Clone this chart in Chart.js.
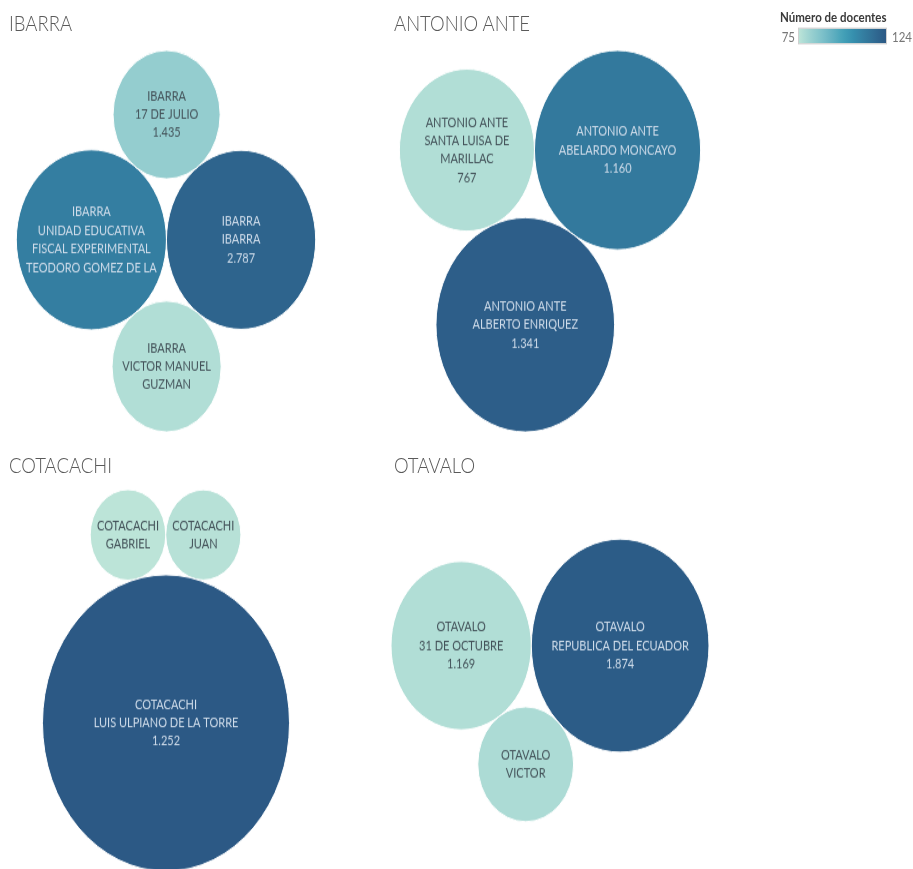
<!DOCTYPE html>
<html lang="es">
<head>
<meta charset="utf-8">
<title>Estudiantes por institución</title>
<script src="https://cdn.jsdelivr.net/npm/chart.js@4.4.1/dist/chart.umd.min.js"></script>
<style>
    html, body { margin: 0; padding: 0; background: #fff; overflow: hidden; }
    /* todo el tablero se estira en vertical como la captura original */
    #stage {
        position: absolute; left: 0; top: 0; width: 913px; height: 724px;
        transform: scaleY(1.2); transform-origin: 0 0;
        font-family: Lato, 'Open Sans', sans-serif;
    }
    .panel { position: absolute; }
    .titulo { position: absolute; font-size: 18.5px; line-height: 1; color: #5a5a5a; font-weight: 300; white-space: nowrap; }
    #leyenda { position: absolute; left: 760px; top: 0; width: 153px; height: 45px; }
    #leyenda .nombre { position: absolute; left: 20px; top: 8px; font-size: 11.5px; line-height: 1; font-weight: 700; color: #3a3a3a; white-space: nowrap; }
    #leyenda .barra { position: absolute; left: 38px; top: 23px; width: 89px; height: 14px; border: 1px solid #d0d0d0; box-sizing: border-box; }
    #leyenda .min, #leyenda .max { position: absolute; top: 25px; font-size: 11.5px; line-height: 1; color: #777; }
    #leyenda .min { right: 118px; }
    #leyenda .max { left: 132px; }
</style>
</head>
<body>
<div id="stage">
    <div id="leyenda">
        <div class="nombre">Número de docentes</div>
        <div class="min">75</div>
        <div class="barra"></div>
        <div class="max">124</div>
    </div>
</div>
<script>
// datos por institución (tamaño = estudiantes, color = docentes)
const cantones = ['IBARRA', 'ANTONIO ANTE', 'COTACACHI', 'OTAVALO'];
const canton = ['IBARRA', 'IBARRA', 'IBARRA', 'IBARRA',
    'ANTONIO ANTE', 'ANTONIO ANTE', 'ANTONIO ANTE',
    'COTACACHI', 'COTACACHI', 'COTACACHI',
    'OTAVALO', 'OTAVALO', 'OTAVALO'];
const escuela = ['UNIDAD EDUCATIVA FISCAL EXPERIMENTAL TEODORO GOMEZ DE LA TORRE', 'IBARRA', '17 DE JULIO', 'VICTOR MANUEL GUZMAN',
    'SANTA LUISA DE MARILLAC', 'ABELARDO MONCAYO', 'ALBERTO ENRIQUEZ',
    'GABRIEL', 'JUAN', 'LUIS ULPIANO DE LA TORRE',
    '31 DE OCTUBRE', 'REPUBLICA DEL ECUADOR', 'VICTOR'];
const estudiantes = [2820, 2787, 1435, 1490, 767, 1160, 1341, 117, 116, 1252, 1169, 1874, 545];
const docentes = [111, 120, 83, 77, 77, 113, 122, 75, 76, 124, 77, 123, 78];
const docentesMin = 75;
const docentesMax = 124;

// paleta Blue-Teal de Tableau
const paleta = ['#bce4d8', '#aedcd5', '#a1d5d2', '#95cecf', '#89c8cc', '#7ec1ca', '#72bac6', '#66b2c2', '#59acbe', '#4ba5ba',
    '#419eb6', '#3b96b2', '#358ead', '#3586a7', '#347ea1', '#32779b', '#316f96', '#2f6790', '#2d608a', '#2c5985'];

// escuelas que van encima del par inicial; el resto va debajo
const arriba = ['17 DE JULIO'];

// posición de cada hoja del tablero
const paneles = [
    { left: 7, top: 42, tituloX: 9, tituloY: 10 },
    { left: 391, top: 42, tituloX: 394, tituloY: 10 },
    { left: 7, top: 408, tituloX: 9, tituloY: 378 },
    { left: 391, top: 408, tituloX: 394, tituloY: 378 }
];
const LADO = 318;

function hexRgb(h) {
    return [parseInt(h.slice(1, 3), 16), parseInt(h.slice(3, 5), 16), parseInt(h.slice(5, 7), 16)];
}
function colorDocentes(d) {
    const t = Math.min(Math.max((d - docentesMin) / (docentesMax - docentesMin), 0), 1) * (paleta.length - 1);
    const i = Math.min(Math.floor(t), paleta.length - 2);
    const f = t - i;
    const a = hexRgb(paleta[i]), b = hexRgb(paleta[i + 1]);
    const c = a.map((v, k) => Math.round(v + (b[k] - v) * f));
    return `rgb(${c[0]},${c[1]},${c[2]})`;
}
function formato(n) {
    return String(n).replace(/\B(?=(\d{3})+(?!\d))/g, '.');
}

// empaquetado simple: los dos primeros tangentes en horizontal, el resto tangente a ambos
function empacar(idx) {
    const r = idx.map(i => Math.sqrt(estudiantes[i]));
    const pos = [{ x: 0, y: 0 }, { x: r[0] + r[1], y: 0 }];
    const d = r[0] + r[1];
    for (let k = 2; k < idx.length; k++) {
        const dA = r[0] + r[k], dB = r[1] + r[k];
        const x = (dA * dA - dB * dB + d * d) / (2 * d);
        const y = Math.sqrt(Math.max(dA * dA - x * x, 0));
        pos.push({ x: x, y: arriba.includes(escuela[idx[k]]) ? y : -y });
    }
    const x0 = Math.min(...pos.map((p, k) => p.x - r[k])), x1 = Math.max(...pos.map((p, k) => p.x + r[k]));
    const y0 = Math.min(...pos.map((p, k) => p.y - r[k])), y1 = Math.max(...pos.map((p, k) => p.y + r[k]));
    const f = 2 / Math.max(x1 - x0, y1 - y0);
    const cx = (x0 + x1) / 2, cy = (y0 + y1) / 2;
    return idx.map((i, k) => ({
        x: (pos[k].x - cx) * f,
        y: (pos[k].y - cy) * f,
        ru: r[k] * f,
        canton: canton[i],
        escuela: escuela[i],
        valor: estudiantes[i],
        docentes: docentes[i]
    }));
}

function partir(ctx, texto, ancho) {
    const palabras = texto.split(' ');
    const lineas = [];
    let actual = '';
    palabras.forEach(p => {
        const prueba = actual ? actual + ' ' + p : p;
        if (actual && ctx.measureText(prueba).width > ancho) {
            lineas.push(actual);
            actual = p;
        } else {
            actual = prueba;
        }
    });
    if (actual) lineas.push(actual);
    return lineas;
}

// etiquetas dentro de cada burbuja
const etiquetas = {
    id: 'etiquetas',
    afterDatasetsDraw(chart) {
        const ctx = chart.ctx;
        const meta = chart.getDatasetMeta(0);
        const datos = chart.data.datasets[0].data;
        const alto = 15.4;
        ctx.save();
        ctx.font = '11px Lato, "Open Sans", sans-serif';
        ctx.textAlign = 'center';
        ctx.textBaseline = 'middle';
        meta.data.forEach((el, i) => {
            const raw = datos[i];
            const r = el.options.radius;
            let lineas = [raw.canton].concat(partir(ctx, raw.escuela, 1.8 * r), [formato(raw.valor)]);
            lineas = lineas.slice(0, Math.floor(2 * r / 33));
            ctx.fillStyle = raw.docentes > 100 ? '#cfdcea' : '#44535a';
            lineas.forEach((t, j) => {
                ctx.fillText(t, el.x, el.y + (j - (lineas.length - 1) / 2) * alto);
            });
        });
        ctx.restore();
    }
};

const stage = document.getElementById('stage');
document.querySelector('#leyenda .barra').style.background =
    'linear-gradient(to right, ' + paleta.join(', ') + ')';

cantones.forEach((nombre, p) => {
    const conf = paneles[p];
    const titulo = document.createElement('div');
    titulo.className = 'titulo';
    titulo.textContent = nombre;
    titulo.style.left = conf.tituloX + 'px';
    titulo.style.top = conf.tituloY + 'px';
    stage.appendChild(titulo);

    const canvas = document.createElement('canvas');
    canvas.className = 'panel';
    canvas.width = LADO;
    canvas.height = LADO;
    canvas.style.left = conf.left + 'px';
    canvas.style.top = conf.top + 'px';
    stage.appendChild(canvas);

    const idx = canton.map((c, i) => c === nombre ? i : -1).filter(i => i >= 0);
    const puntos = empacar(idx);

    new Chart(canvas.getContext('2d'), {
        type: 'bubble',
        data: {
            datasets: [{
                data: puntos,
                backgroundColor: puntos.map(d => colorDocentes(d.docentes)),
                borderColor: '#ffffff',
                borderWidth: 1,
                // radio en píxeles: el área de la hoja va de -1 a 1 en ambos ejes
                radius: c => (c.raw ? c.raw.ru * c.chart.width / 2 : 0),
                clip: false
            }]
        },
        options: {
            responsive: false,
            devicePixelRatio: 1,
            animation: false,
            events: [],
            layout: { autoPadding: false, padding: 0 },
            scales: {
                x: { type: 'linear', min: -1, max: 1, display: false },
                y: { type: 'linear', min: -1, max: 1, display: false }
            },
            plugins: {
                legend: { display: false },
                tooltip: { enabled: false }
            }
        },
        plugins: [etiquetas]
    });
});
</script>
</body>
</html>
